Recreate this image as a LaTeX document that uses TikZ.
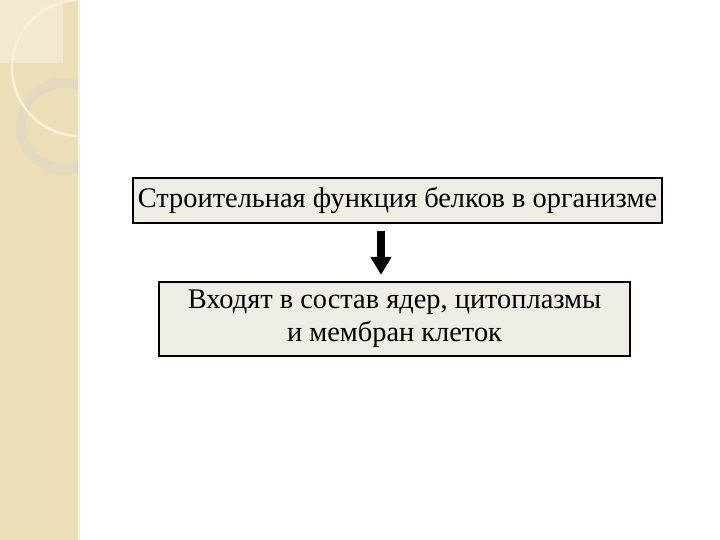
\documentclass[tikz,border=0pt]{standalone}
\usepackage{fontspec}
\setmainfont{Liberation Serif}
\usetikzlibrary{positioning,arrows.meta}
\definecolor{strip}{RGB}{236,223,184}
\definecolor{stripl}{RGB}{242,233,207}
\definecolor{ringc}{RGB}{226,217,192}
\definecolor{arcc}{RGB}{248,241,216}
\definecolor{boxfill}{RGB}{240,237,228}
\begin{document}
\begin{tikzpicture}[x=1bp,y=-1bp,
    box/.style={draw,line width=1.8bp,fill=boxfill,inner sep=0pt,align=center,
                font=\fontsize{28.5}{33.5}\selectfont},
    down/.style={-{Triangle[width=20bp,length=18bp]},line width=8bp}
                   ]
    \useasboundingbox (0,0) rectangle (720,540);

    % left strip
    \fill[strip] (0,0) rectangle (78,540);
    \fill[stripl] (0,0) rectangle (63,63);
    \begin{scope}
    \clip (0,0) rectangle (78,540);
    \draw[ringc,line width=10bp] (64,126) circle (43bp);
    \draw[arcc,line width=2.5bp] (80,68) circle (68bp);
    \end{scope}
    \draw[white!55!strip,line width=1.5bp] (79,0) -- (79,540);

    \node[box,minimum width=529bp,minimum height=45bp](w0) at (397.5,200.5){Строительная функция белков в организме};
    \node[box,minimum width=471bp,minimum height=74bp,below=57bp of w0,xshift=-3bp](w1){Входят в состав ядер, цитоплазмы\\и мембран клеток};

    \draw[down,shorten <=7bp,shorten >=6bp] ([xshift=-16.5bp]w0.south) -- ([xshift=-16.5bp]w0.south |- w1.north);

\end{tikzpicture}
\end{document}
